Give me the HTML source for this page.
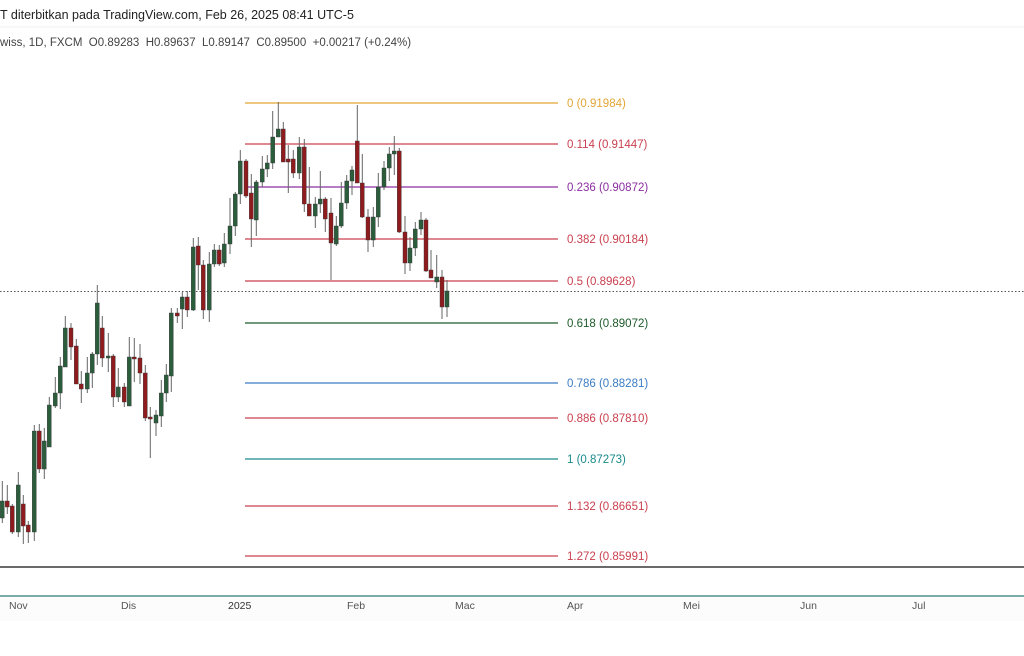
<!DOCTYPE html>
<html><head><meta charset="utf-8"><style>
html,body{margin:0;padding:0;background:#fff;width:1024px;height:656px;overflow:hidden;font-family:"Liberation Sans","DejaVu Sans",sans-serif;}
svg{position:absolute;left:0;top:0}
</style></head><body>
<svg id="s" width="1024" height="656" xmlns="http://www.w3.org/2000/svg">
<rect x="0" y="0" width="1024" height="656" fill="#fff"/>
<text x="0" y="19" font-size="12.5" fill="#222">T diterbitkan pada TradingView.com, Feb 26, 2025 08:41 UTC-5</text>
<line x1="0" y1="27" x2="1024" y2="27" stroke="#f2f2f2"/>
<text x="0" y="46" font-size="11.5" fill="#444" xml:space="preserve">wiss, 1D, FXCM  O0.89283  H0.89637  L0.89147  C0.89500  +0.00217 (+0.24%)</text>
<line x1="0" y1="291.5" x2="1024" y2="291.5" stroke="#555" stroke-dasharray="1.5,2"/>
<g id="fib" font-size="11.5"></g>
<g id="c"></g>
<line x1="0" y1="567" x2="1024" y2="567" stroke="#111" stroke-width="1.3"/>
<line x1="0" y1="596" x2="1024" y2="596" stroke="#2a7a78" stroke-width="1.2"/>
<rect x="0" y="597" width="1024" height="24" fill="#fcfcfc"/>
<g font-size="10.5" fill="#555">
<text x="9" y="609">Nov</text><text x="121" y="609">Dis</text><text x="228" y="609" fill="#333">2025</text>
<text x="347" y="609">Feb</text><text x="455" y="609">Mac</text><text x="567" y="609">Apr</text>
<text x="683" y="609">Mei</text><text x="800" y="609">Jun</text><text x="912" y="609">Jul</text>
</g>
</svg>
<script>
var fib=[[103,"#e2a535","0 (0.91984)"],[144,"#c9404f","0.114 (0.91447)"],[187,"#8a2ea0","0.236 (0.90872)"],[239,"#c9404f","0.382 (0.90184)"],[281,"#c9404f","0.5 (0.89628)"],[323,"#1e5a2a","0.618 (0.89072)"],[383,"#3b7cc2","0.786 (0.88281)"],[418,"#c9404f","0.886 (0.87810)"],[459,"#1b8a8c","1 (0.87273)"],[506,"#c9404f","1.132 (0.86651)"],[556,"#c9404f","1.272 (0.85991)"]];
var NS='http://www.w3.org/2000/svg';
function el(p,n,a,t){var e=document.createElementNS(NS,n);for(var k in a)e.setAttribute(k,a[k]);if(t)e.textContent=t;p.appendChild(e);return e;}
var g=document.getElementById('fib');
fib.forEach(function(f){el(g,'line',{x1:245,y1:f[0],x2:558,y2:f[0],stroke:f[1],'stroke-width':1.3});el(g,'text',{x:567,y:f[0]+4,fill:f[1]},f[2]);});
var d=[[2.3,518,501,481,523],[7.3,501,507,485,514],[12.3,506,532,504,534],[18.3,532,485,472,537],[23.3,504,526,495,544],[28.3,525,532,521,543],[34.3,532,431,425,541],[39.3,431,469,424,473],[44.3,469,441,428,479],[49.3,447,405,397,447],[55.3,406,393,377,408],[60.3,393,366,357,409],[65.3,367,328,316,367],[71,328,347,323,360],[76.3,346,384,339,384],[81.3,384,389,371,403],[87.3,389,373,357,393],[92.3,373,354,352,388],[97.3,354,303,285,365],[102.3,328,358,316,367],[108.3,358,356,333,372],[113.3,356,397,354,407],[118.3,397,387,368,402],[124.3,387,402,383,407],[129.3,406,357,337,406],[134.3,357,359,338,382],[140,358,373,344,384],[145.3,373,418,365,421],[150.3,417,419,407,458],[156,423,415,410,436],[161.3,416,393,380,427],[166.3,393,375,364,402],[171.3,376,313,308,392],[177.3,313,316,308,323],[182.3,309,297,292,329],[187.3,297,310,291,317],[193.3,310,247,238,311],[198.3,246,265,237,290],[203.3,265,310,260,319],[209.3,310,264,252,322],[214.3,264,250,244,267],[219.3,250,264,245,266],[224.3,263,244,233,267],[230,244,226,198,254],[235.3,226,194,192,236],[240.3,194,161,150,204],[246,161,196,159,198],[251.3,193,219,174,247],[256.3,220,182,180,236],[262.3,182,169,156,187],[267.3,169,163,155,177],[272.7,163,137,111,169],[278.3,137,129,102,137],[283.3,129,162,122,162],[288.3,159,162,145,193],[293.3,159,173,150,178],[299.3,173,147,137,179],[304.3,147,204,139,212],[309.3,204,216,167,216],[315.3,216,204,197,228],[320.3,204,199,171,213],[325.3,199,219,197,232],[331,213,243,198,280],[336.3,244,226,216,246],[341.3,226,203,182,228],[346.7,203,181,175,209],[352,181,170,166,195],[357.3,141,183,105,183],[362.3,183,217,154,218],[368,217,240,209,252],[373.3,240,217,207,247],[378.3,217,187,173,227],[384,187,168,161,190],[389.3,168,154,147,181],[394.3,154,151,136,175],[399.3,151,232,148,233],[405,232,263,216,274],[410,263,248,237,271],[415.3,248,229,222,256],[421,229,220,212,235],[426,220,271,218,272],[431,270,278,250,278],[436.7,282,277,255,288],[442,277,307,270,319],[447,307,291,280,317]];
var cg=document.getElementById('c');
d.forEach(function(c){var x=c[0],o=c[1],cl=c[2],up=cl<o;var col=up?'#2b5d3c':'#8e1c1f';var top=Math.min(o,cl),b=Math.max(o,cl);if(b-top<2)b=top+2;
el(cg,'line',{x1:x,y1:c[3],x2:x,y2:c[4],stroke:'#666','stroke-width':1});
el(cg,'rect',{x:x-2,y:top,width:4,height:b-top,fill:col,stroke:'#333','stroke-width':0.4});});
</script>
</body></html>
